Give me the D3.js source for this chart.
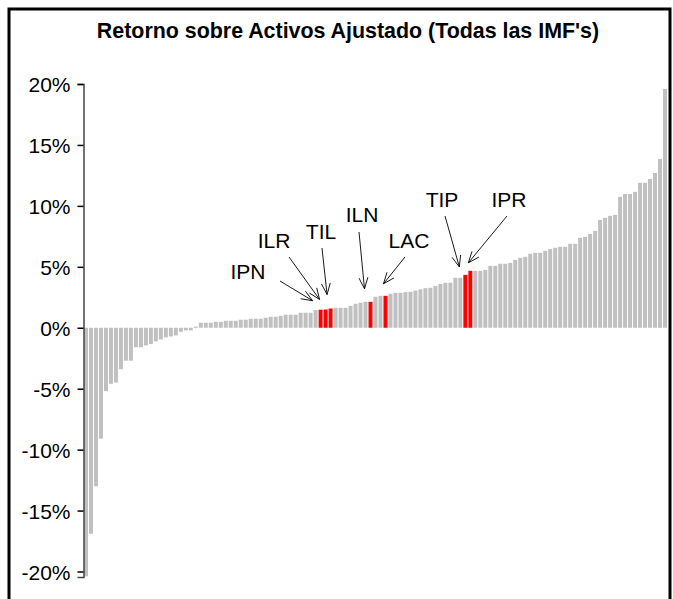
<!DOCTYPE html>
<html lang="es">
<head>
    <meta charset="UTF-8">
    <title>Retorno sobre Activos Ajustado</title>
    <script src="https://d3js.org/d3.v7.min.js"></script>
    <style>
        body {
            margin: 0;
            background: white;
        }
        svg text {
            font-family: "Liberation Sans", Arial, sans-serif;
            fill: black;
        }
        .title {
            font-size: 21.4px;
            font-weight: bold;
        }
        .axis text {
            font-size: 21px;
        }
        .note {
            font-size: 21px;
        }
    </style>
</head>
<body>
    <svg width="673" height="599"></svg>
    <script>
        // ROA ajustado por IMF, ordenado de menor a mayor (en %)
        const roaValues = [
            -20.4, -16.9, -13.0, -9.1, -5.2, -4.6, -4.5, -3.4, -2.7, -2.7,
            -1.6, -1.6, -1.45, -1.34, -1.12, -0.96, -0.79, -0.71, -0.63, -0.33,
            -0.22, -0.22, 0.1, 0.41, 0.41, 0.41, 0.49, 0.49, 0.57, 0.57,
            0.57, 0.66, 0.66, 0.74, 0.74, 0.74, 0.82, 0.9, 0.9, 0.98,
            1.07, 1.07, 1.07, 1.23, 1.23, 1.23, 1.45, 1.48, 1.5, 1.58,
            1.64, 1.64, 1.64, 1.8, 1.97, 2.05, 2.13, 2.13, 2.54, 2.62,
            2.62, 2.79, 2.87, 2.87, 2.92, 2.95, 3.05, 3.15, 3.25, 3.28,
            3.44, 3.6, 3.69, 3.69, 4.1, 4.1, 4.34, 4.67, 4.67, 4.67,
            4.75, 5.08, 5.08, 5.25, 5.25, 5.33, 5.57, 5.74, 5.82, 6.07,
            6.15, 6.15, 6.31, 6.45, 6.56, 6.64, 6.64, 6.89, 6.89, 7.38,
            7.46, 7.7, 7.95, 8.85, 9.02, 9.18, 9.26, 10.74, 10.98, 10.98,
            11.15, 11.89, 11.89, 12.21, 12.7, 13.85, 19.59
        ];

        // IMFs destacadas y su posicion en el ranking
        const highlightNames = ["IPN", "ILR", "TIL", "ILN", "LAC", "TIP", "IPR"];
        const highlightIdx = [47, 48, 49, 57, 60, 76, 77];

        const yTicks = [-20, -15, -10, -5, 0, 5, 10, 15, 20];

        // donde va cada etiqueta y de donde sale su flecha
        const noteLayout = [
            {tx: 248, ty: 279, x1: 280, y1: 281, dx: -8, dy: -9},
            {tx: 274, ty: 248, x1: 289, y1: 257, dx: -6, dy: -10},
            {tx: 321, ty: 239, x1: 322, y1: 248, dx: -3.5, dy: -14},
            {tx: 362, ty: 222, x1: 359, y1: 232, dx: -6, dy: -13},
            {tx: 409, ty: 248, x1: 405, y1: 257, dx: -2, dy: -12},
            {tx: 442, ty: 207, x1: 445, y1: 216, dx: -6, dy: -8},
            {tx: 509, ty: 207, x1: 507, y1: 216, dx: -2, dy: -8}
        ];

        const svg = d3.select("svg");

        // marco exterior
        svg.append("rect")
           .attr("x", 9).attr("y", 9)
           .attr("width", 661).attr("height", 640)
           .attr("fill", "none")
           .attr("stroke", "black")
           .attr("stroke-width", 3);

        svg.append("text")
           .attr("class", "title")
           .attr("x", 348).attr("y", 38)
           .attr("text-anchor", "middle")
           .text("Retorno sobre Activos Ajustado (Todas las IMF's)");

        const x = d3.scaleBand()
                    .domain(d3.range(roaValues.length))
                    .range([84, 667])
                    .paddingInner(0.2)
                    .paddingOuter(0);

        const y = d3.scaleLinear()
                    .domain([-20.45, 20])
                    .range([577, 84]);

        const isRed = new Set(highlightIdx);

        svg.selectAll(".bar")
           .data(roaValues)
           .enter().append("rect")
           .attr("class", "bar")
           .attr("x", (d, i) => x(i))
           .attr("y", d => y(Math.max(0, d)))
           .attr("width", x.bandwidth())
           .attr("height", d => Math.abs(y(d) - y(0)))
           .attr("fill", (d, i) => isRed.has(i) ? "#ff0000" : "#c0c0c0");

        // eje Y
        const yAxis = svg.append("g")
           .attr("class", "axis")
           .attr("transform", "translate(83.5,0)")
           .call(d3.axisLeft(y)
                   .tickValues(yTicks)
                   .tickSize(6)
                   .tickPadding(7)
                   .tickFormat(d => d + "%"));
        yAxis.select(".domain").attr("stroke", "#444").attr("stroke-width", 1.5);
        yAxis.selectAll(".tick line").attr("stroke", "black").attr("stroke-width", 1.5);
        yAxis.selectAll(".tick text").attr("dy", "0.36em");

        // etiquetas con flechas
        const notes = svg.append("g");
        highlightIdx.forEach((idx, k) => {
            const L = noteLayout[k];
            const x2 = x(idx) + x.bandwidth() / 2 + L.dx;
            const y2 = y(roaValues[idx]) + L.dy;
            const ang = Math.atan2(y2 - L.y1, x2 - L.x1);
            const head = 12, spread = 0.38;

            notes.append("text")
                 .attr("class", "note")
                 .attr("x", L.tx).attr("y", L.ty)
                 .attr("text-anchor", "middle")
                 .text(highlightNames[k]);

            notes.append("line")
                 .attr("x1", L.x1).attr("y1", L.y1)
                 .attr("x2", x2).attr("y2", y2)
                 .attr("stroke", "black").attr("stroke-width", 0.9);

            [-spread, spread].forEach(s => {
                notes.append("line")
                     .attr("x1", x2).attr("y1", y2)
                     .attr("x2", x2 - head * Math.cos(ang + s))
                     .attr("y2", y2 - head * Math.sin(ang + s))
                     .attr("stroke", "black").attr("stroke-width", 0.9);
            });
        });
    </script>
</body>
</html>
